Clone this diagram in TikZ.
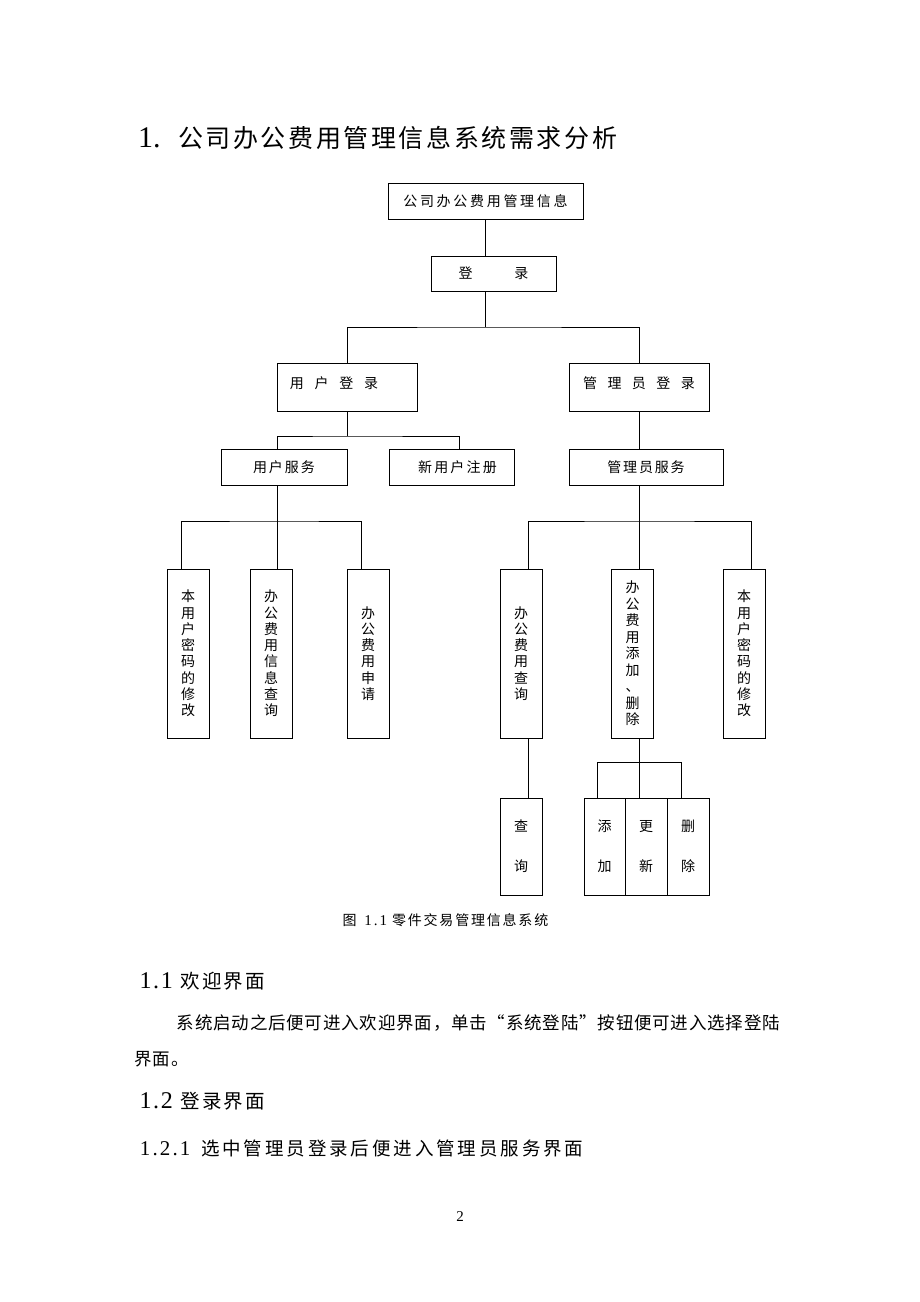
\documentclass[tikz,border=0pt]{standalone}
\usepackage{fontspec}
\setmainfont{Noto Sans CJK SC}
\newfontfamily\lat{Liberation Serif}
\ExplSyntaxOn
\NewDocumentCommand\hsp{mm}{\tl_map_inline:nn{#2}{\makebox[#1][c]{##1}}}
\ExplSyntaxOff
\tikzset{
  box/.style={draw, line width=1pt, inner sep=0pt, outer sep=0pt},
  conn/.style={line width=1pt},
  bt/.style={font=\fontsize{14}{16}\selectfont},
  tall/.style={box, minimum width=42pt, minimum height=169pt, align=center, font=\fontsize{14}{16.3}\selectfont},
  small/.style={box, minimum width=42pt, minimum height=97pt, align=center, font=\fontsize{14}{40}\selectfont},
  txt/.style={anchor=base west, inner sep=0pt},
}
\begin{document}
\begin{tikzpicture}[x=1pt,y=-1pt]
\useasboundingbox[fill=white] (0,0) rectangle (920,1302);

% title
\node[txt] (title) at (138,147) {\makebox[38.7pt][l]{\lat\fontsize{30}{30}\selectfont 1.}\fontsize{25}{25}\selectfont\hsp{27.6pt}{公司办公费用管理信息系统需求分析}};

% boxes
\node[box, minimum width=195pt, minimum height=36pt, bt] (top) at (485.5,201) {\hsp{16.7pt}{公司办公费用管理信息}};
\node[box, minimum width=125pt, minimum height=35pt, bt] (login) at (493.5,273.5) {\hsp{56pt}{登录}\hspace{13pt}};
\node[box, minimum width=140pt, minimum height=48pt, label={[bt, xshift=-13pt, yshift=4pt]center:\hsp{24.7pt}{用户登录}}] (ulogin) at (347,387) {};
\node[box, minimum width=140pt, minimum height=48pt, label={[bt, yshift=4pt]center:\hsp{24.4pt}{管理员登录}}] (alogin) at (639,387) {};
\node[box, minimum width=126pt, minimum height=36pt, bt] (usvc) at (284,467) {\hsp{16pt}{用户服务}\hspace{19pt}};
\node[box, minimum width=125pt, minimum height=36pt, bt] (newreg) at (451.5,467) {\hspace{12pt}\hsp{16.2pt}{新用户注册}};
\node[box, minimum width=154pt, minimum height=36pt, bt] (asvc) at (646,467) {\hsp{15.8pt}{管理员服务}\hspace{15pt}};

\node[tall] (L1) at (188,653.5) {本\\用\\户\\密\\码\\的\\修\\改};
\node[tall] (L2) at (271,653.5) {办\\公\\费\\用\\信\\息\\查\\询};
\node[tall] (L3) at (368,653.5) {办\\公\\费\\用\\申\\请};
\node[tall] (R1) at (521,653.5) {办\\公\\费\\用\\查\\询};
\node[tall, font=\fontsize{14}{16.5}\selectfont] (R2) at (632.5,653.5) {办\\公\\费\\用\\添\\加\\、\\删\\除};
\node[tall] (R3) at (744,653.5) {本\\用\\户\\密\\码\\的\\修\\改};

\node[small] (Q) at (521,846.5) {查\\询};
\node[small, minimum width=41pt] (A) at (604.5,846.5) {添\\加};
\node[small] (U) at (646,846.5) {更\\新};
\node[small] (D) at (688,846.5) {删\\除};

% helper coordinates
\coordinate (j0) at (485.5,327);
\coordinate (j2) at (277,521);
\coordinate (j3) at (639,521);
\coordinate (j4) at (639,762);
\coordinate (x181) at (181,0);
\coordinate (x277) at (277,0);
\coordinate (x361) at (361,0);
\coordinate (x459) at (459,0);
\coordinate (x528) at (528,0);
\coordinate (x751) at (751,0);
\coordinate (x597) at (597,0);
\coordinate (x681) at (681,0);

% connectors
\draw[conn] (top.south) -- (top.south |- login.north);
\draw[conn] (login.south -| j0) -- (j0);
\draw[conn] (ulogin.north) |- (j0) -| (alogin.north);
\draw[conn] (ulogin.south) -- ++(0,25) coordinate (j1);
\draw[conn] (x277 |- usvc.north) |- (j1) -| (x459 |- newreg.north);
\draw[conn] (alogin.south) -- (alogin.south |- asvc.north);
\draw[conn] (usvc.south -| j2) -- (j2);
\draw[conn] (x181 |- L1.north) |- (j2) -| (x361 |- L3.north);
\draw[conn] (j2) -- (j2 |- L2.north);
\draw[conn] (asvc.south -| j3) -- (j3);
\draw[conn] (x528 |- R1.north) |- (j3) -| (x751 |- R3.north);
\draw[conn] (j3) -- (j3 |- R2.north);
\draw[conn] (R1.south -| x528) -- (x528 |- Q.north);
\draw[conn] (R2.south -| j4) -- (j4);
\draw[conn] (x597 |- A.north) |- (j4) -| (x681 |- D.north);
\draw[conn] (j4) -- (j4 |- U.north);

% caption
\node[txt] (cap) at (341.5,925) {\makebox[22.5pt][l]{\fontsize{14}{14}\selectfont\hsp{15.8pt}{图}}\makebox[27pt][l]{\lat\fontsize{15}{15}\selectfont\hsp{7.7pt}{1.1}}\fontsize{14}{14}\selectfont\hsp{15.8pt}{零件交易管理信息系统}};

% text below
\node[txt] (h11) at (140,988) {\makebox[39pt][l]{\lat\fontsize{24}{24}\selectfont\hsp{10.7pt}{1.1}}\fontsize{19.5}{20}\selectfont\hsp{21.75pt}{欢迎界面}};
\node[txt] (p1) at (176.3,1029) {\fontsize{17.5}{18}\selectfont\hsp{18.3pt}{系统启动之后便可进入欢迎界面，单击“系统登陆”按钮便可进入选择登陆}};
\node[txt] (p2) at (134,1065) {\fontsize{17.5}{18}\selectfont\hsp{18.3pt}{界面。}};
\node[txt] (h12) at (140,1108) {\makebox[39pt][l]{\lat\fontsize{24}{24}\selectfont\hsp{10.7pt}{1.2}}\fontsize{19.5}{20}\selectfont\hsp{21.75pt}{登录界面}};
\node[txt] (h121) at (140,1155) {\makebox[59.5pt][l]{\lat\fontsize{21}{21}\selectfont\hsp{10pt}{1.2.1}}\fontsize{18.5}{19}\selectfont\hsp{21.4pt}{选中管理员登录后便进入管理员服务界面}};

% page number
\node[inner sep=0pt, font=\lat\fontsize{15}{15}\selectfont] (pg) at (460,1217) {2};
\end{tikzpicture}
\end{document}
